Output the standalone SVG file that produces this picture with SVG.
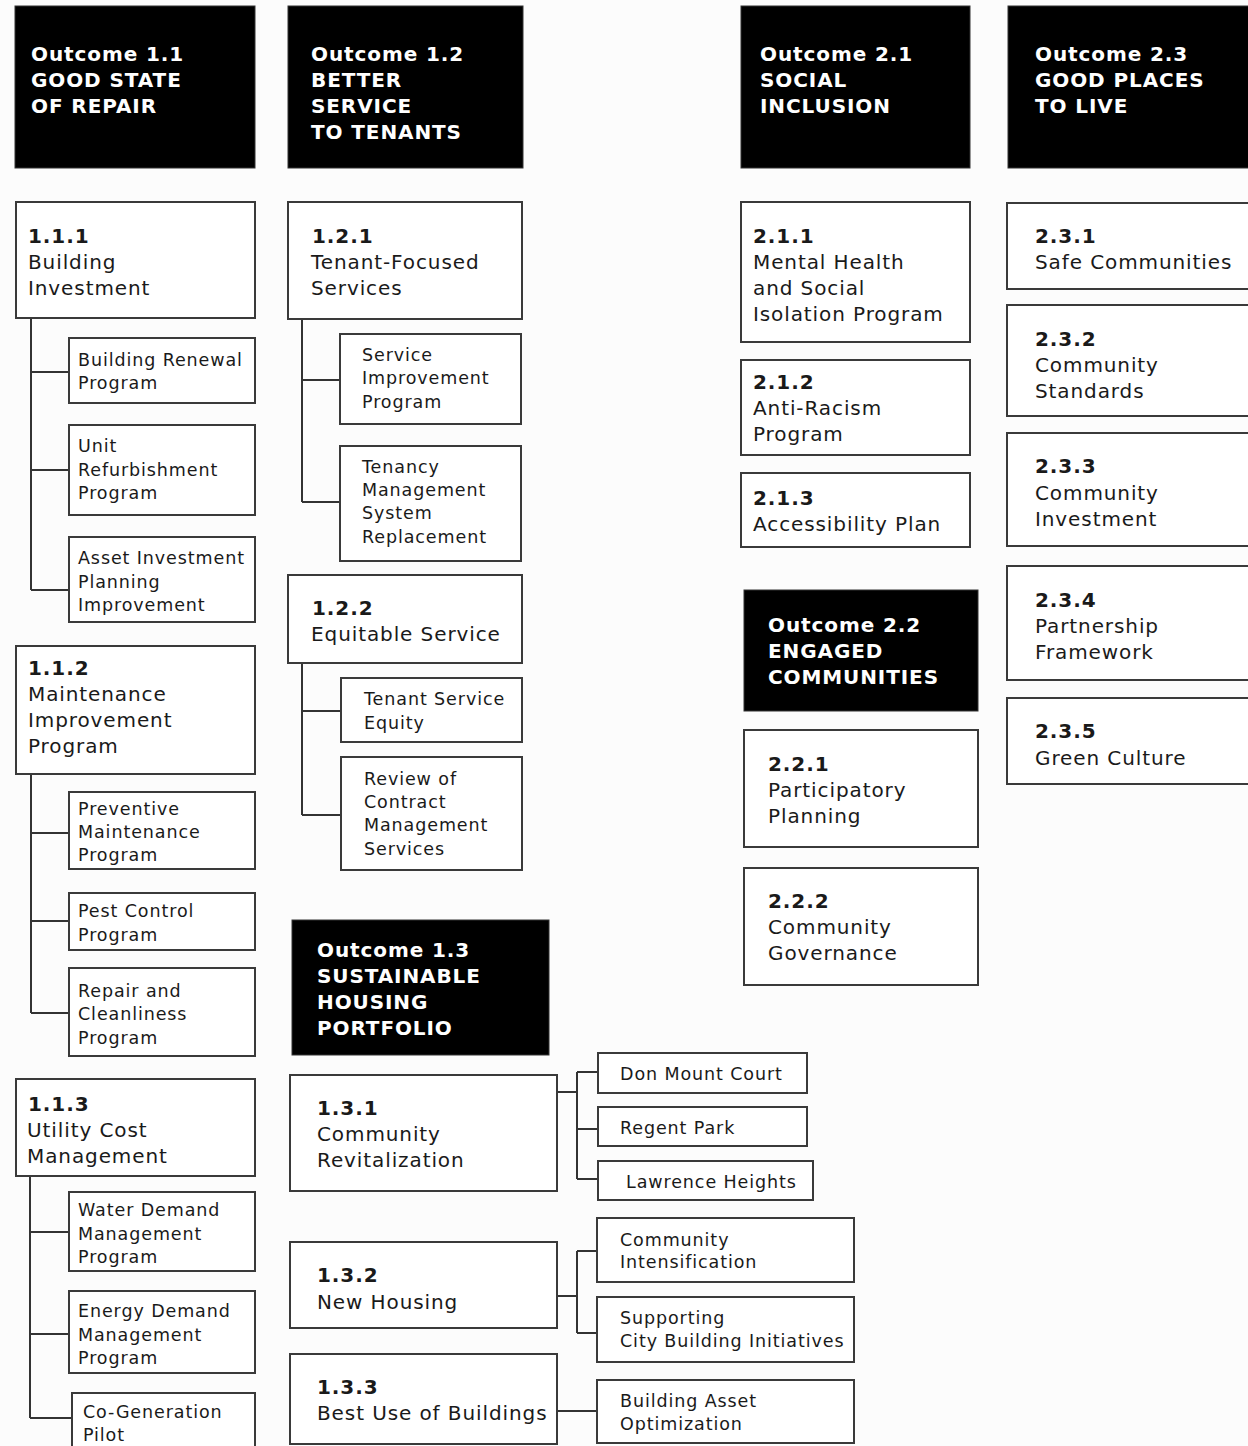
<svg xmlns="http://www.w3.org/2000/svg" width="1248" height="1446" viewBox="0 0 1248 1446">
<style>
text{font-family:"DejaVu Sans","Verdana",sans-serif;fill:#1a1a1a;letter-spacing:0.9px}
.hd rect{fill:#000;stroke:#333;stroke-width:1}
.hd text{fill:#fff;font-weight:bold;font-size:20px}
.bx rect{fill:#fff;stroke:#3a3a3a;stroke-width:2}
.t2{font-size:20px}
.t3{font-size:17.5px}
.b{font-weight:bold}
#conn path{fill:none;stroke:#333;stroke-width:2}
</style>
<rect x="0" y="0" width="1248" height="1446" fill="#fcfcfc"/>

<g id="conn">
<path d="M31 318V590M31 372H69M31 470H69M31 590H69"/>
<path d="M31 774V1013M31 833H69M31 921H69M31 1013H69"/>
<path d="M30 1176V1418M30 1232H69M30 1334H69M30 1418H72"/>
<path d="M302 319V502M302 380H340M302 502H340"/>
<path d="M302 663V815M302 711H341M302 815H341"/>
<path d="M557 1092H577M577 1072V1179M577 1072H598M577 1129H598M577 1179H598"/>
<path d="M557 1296H577M577 1251V1333M577 1251H597M577 1333H597"/>
<path d="M557 1411H597"/>
</g>

<!-- Outcome headers -->
<g id="o11" class="hd"><rect x="15" y="6" width="240" height="162"/>
<text x="31" y="61">Outcome 1.1</text><text x="31" y="87">GOOD STATE</text><text x="31" y="113">OF REPAIR</text></g>
<g id="o12" class="hd"><rect x="288" y="6" width="235" height="162"/>
<text x="311" y="61">Outcome 1.2</text><text x="311" y="87">BETTER</text><text x="311" y="113">SERVICE</text><text x="311" y="139">TO TENANTS</text></g>
<g id="o21" class="hd"><rect x="741" y="6" width="229" height="162"/>
<text x="760" y="61">Outcome 2.1</text><text x="760" y="87">SOCIAL</text><text x="760" y="113">INCLUSION</text></g>
<g id="o23" class="hd"><rect x="1008" y="6" width="250" height="162"/>
<text x="1035" y="61">Outcome 2.3</text><text x="1035" y="87">GOOD PLACES</text><text x="1035" y="113">TO LIVE</text></g>
<g id="o22" class="hd"><rect x="744" y="590" width="234" height="121"/>
<text x="768" y="632">Outcome 2.2</text><text x="768" y="658">ENGAGED</text><text x="768" y="684">COMMUNITIES</text></g>
<g id="o13" class="hd"><rect x="292" y="920" width="257" height="135"/>
<text x="317" y="957">Outcome 1.3</text><text x="317" y="983">SUSTAINABLE</text><text x="317" y="1009">HOUSING</text><text x="317" y="1035">PORTFOLIO</text></g>

<!-- Column 1.1 -->
<g id="n111" class="bx"><rect x="16" y="202" width="239" height="116"/>
<text class="t2 b" x="28" y="243">1.1.1</text><text class="t2" x="28" y="269">Building</text><text class="t2" x="28" y="295">Investment</text></g>
<g id="n111a" class="bx"><rect x="69" y="338" width="186" height="65"/>
<text class="t3" x="78" y="366">Building Renewal</text><text class="t3" x="78" y="389">Program</text></g>
<g id="n111b" class="bx"><rect x="69" y="425" width="186" height="90"/>
<text class="t3" x="78" y="452">Unit</text><text class="t3" x="78" y="476">Refurbishment</text><text class="t3" x="78" y="499">Program</text></g>
<g id="n111c" class="bx"><rect x="69" y="537" width="186" height="85"/>
<text class="t3" x="78" y="564">Asset Investment</text><text class="t3" x="78" y="588">Planning</text><text class="t3" x="78" y="611">Improvement</text></g>

<g id="n112" class="bx"><rect x="16" y="646" width="239" height="128"/>
<text class="t2 b" x="28" y="675">1.1.2</text><text class="t2" x="28" y="701">Maintenance</text><text class="t2" x="28" y="727">Improvement</text><text class="t2" x="28" y="753">Program</text></g>
<g id="n112a" class="bx"><rect x="69" y="792" width="186" height="77"/>
<text class="t3" x="78" y="815">Preventive</text><text class="t3" x="78" y="838">Maintenance</text><text class="t3" x="78" y="861">Program</text></g>
<g id="n112b" class="bx"><rect x="69" y="893" width="186" height="57"/>
<text class="t3" x="78" y="917">Pest Control</text><text class="t3" x="78" y="941">Program</text></g>
<g id="n112c" class="bx"><rect x="69" y="968" width="186" height="88"/>
<text class="t3" x="78" y="997">Repair and</text><text class="t3" x="78" y="1020">Cleanliness</text><text class="t3" x="78" y="1044">Program</text></g>

<g id="n113" class="bx"><rect x="16" y="1079" width="239" height="97"/>
<text class="t2 b" x="28" y="1111">1.1.3</text><text class="t2" x="27" y="1137">Utility Cost</text><text class="t2" x="27" y="1163">Management</text></g>
<g id="n113a" class="bx"><rect x="69" y="1192" width="186" height="79"/>
<text class="t3" x="78" y="1216">Water Demand</text><text class="t3" x="78" y="1240">Management</text><text class="t3" x="78" y="1263">Program</text></g>
<g id="n113b" class="bx"><rect x="69" y="1291" width="186" height="82"/>
<text class="t3" x="78" y="1317">Energy Demand</text><text class="t3" x="78" y="1341">Management</text><text class="t3" x="78" y="1364">Program</text></g>
<g id="n113c" class="bx"><rect x="72" y="1393" width="183" height="60"/>
<text class="t3" x="83" y="1418">Co-Generation</text><text class="t3" x="83" y="1441">Pilot</text></g>

<!-- Column 1.2 -->
<g id="n121" class="bx"><rect x="288" y="202" width="234" height="117"/>
<text class="t2 b" x="312" y="243">1.2.1</text><text class="t2" x="311" y="269">Tenant-Focused</text><text class="t2" x="311" y="295">Services</text></g>
<g id="n121a" class="bx"><rect x="340" y="334" width="181" height="90"/>
<text class="t3" x="362" y="361">Service</text><text class="t3" x="362" y="384">Improvement</text><text class="t3" x="362" y="408">Program</text></g>
<g id="n121b" class="bx"><rect x="340" y="446" width="181" height="115"/>
<text class="t3" x="362" y="473">Tenancy</text><text class="t3" x="362" y="496">Management</text><text class="t3" x="362" y="519">System</text><text class="t3" x="362" y="543">Replacement</text></g>
<g id="n122" class="bx"><rect x="288" y="575" width="234" height="88"/>
<text class="t2 b" x="312" y="615">1.2.2</text><text class="t2" x="311" y="641">Equitable Service</text></g>
<g id="n122a" class="bx"><rect x="341" y="678" width="181" height="64"/>
<text class="t3" x="364" y="705">Tenant Service</text><text class="t3" x="364" y="729">Equity</text></g>
<g id="n122b" class="bx"><rect x="341" y="757" width="181" height="113"/>
<text class="t3" x="364" y="785">Review of</text><text class="t3" x="364" y="808">Contract</text><text class="t3" x="364" y="831">Management</text><text class="t3" x="364" y="855">Services</text></g>

<!-- Column 1.3 -->
<g id="n131" class="bx"><rect x="290" y="1075" width="267" height="116"/>
<text class="t2 b" x="317" y="1115">1.3.1</text><text class="t2" x="317" y="1141">Community</text><text class="t2" x="317" y="1167">Revitalization</text></g>
<g id="n131a" class="bx"><rect x="598" y="1053" width="209" height="40"/>
<text class="t3" x="620" y="1080">Don Mount Court</text></g>
<g id="n131b" class="bx"><rect x="598" y="1107" width="209" height="39"/>
<text class="t3" x="620" y="1134">Regent Park</text></g>
<g id="n131c" class="bx"><rect x="598" y="1161" width="215" height="39"/>
<text class="t3" x="626" y="1188">Lawrence Heights</text></g>
<g id="n132" class="bx"><rect x="290" y="1242" width="267" height="86"/>
<text class="t2 b" x="317" y="1282">1.3.2</text><text class="t2" x="317" y="1309">New Housing</text></g>
<g id="n132a" class="bx"><rect x="597" y="1218" width="257" height="64"/>
<text class="t3" x="620" y="1246">Community</text><text class="t3" x="620" y="1268">Intensification</text></g>
<g id="n132b" class="bx"><rect x="597" y="1297" width="257" height="65"/>
<text class="t3" x="620" y="1324">Supporting</text><text class="t3" x="620" y="1347">City Building Initiatives</text></g>
<g id="n133" class="bx"><rect x="290" y="1354" width="267" height="90"/>
<text class="t2 b" x="317" y="1394">1.3.3</text><text class="t2" x="317" y="1420">Best Use of Buildings</text></g>
<g id="n133a" class="bx"><rect x="597" y="1380" width="257" height="63"/>
<text class="t3" x="620" y="1407">Building Asset</text><text class="t3" x="620" y="1430">Optimization</text></g>

<!-- Column 2.1 / 2.2 -->
<g id="n211" class="bx"><rect x="741" y="202" width="229" height="140"/>
<text class="t2 b" x="753" y="243">2.1.1</text><text class="t2" x="753" y="269">Mental Health</text><text class="t2" x="753" y="295">and Social</text><text class="t2" x="753" y="321">Isolation Program</text></g>
<g id="n212" class="bx"><rect x="741" y="360" width="229" height="95"/>
<text class="t2 b" x="753" y="389">2.1.2</text><text class="t2" x="753" y="415">Anti-Racism</text><text class="t2" x="753" y="441">Program</text></g>
<g id="n213" class="bx"><rect x="741" y="473" width="229" height="74"/>
<text class="t2 b" x="753" y="505">2.1.3</text><text class="t2" x="753" y="531">Accessibility Plan</text></g>
<g id="n221" class="bx"><rect x="744" y="730" width="234" height="117"/>
<text class="t2 b" x="768" y="771">2.2.1</text><text class="t2" x="768" y="797">Participatory</text><text class="t2" x="768" y="823">Planning</text></g>
<g id="n222" class="bx"><rect x="744" y="868" width="234" height="117"/>
<text class="t2 b" x="768" y="908">2.2.2</text><text class="t2" x="768" y="934">Community</text><text class="t2" x="768" y="960">Governance</text></g>

<!-- Column 2.3 -->
<g id="n231" class="bx"><rect x="1007" y="203" width="250" height="86"/>
<text class="t2 b" x="1035" y="243">2.3.1</text><text class="t2" x="1035" y="269">Safe Communities</text></g>
<g id="n232" class="bx"><rect x="1007" y="305" width="250" height="111"/>
<text class="t2 b" x="1035" y="346">2.3.2</text><text class="t2" x="1035" y="372">Community</text><text class="t2" x="1035" y="398">Standards</text></g>
<g id="n233" class="bx"><rect x="1007" y="433" width="250" height="113"/>
<text class="t2 b" x="1035" y="473">2.3.3</text><text class="t2" x="1035" y="500">Community</text><text class="t2" x="1035" y="526">Investment</text></g>
<g id="n234" class="bx"><rect x="1007" y="566" width="250" height="114"/>
<text class="t2 b" x="1035" y="607">2.3.4</text><text class="t2" x="1035" y="633">Partnership</text><text class="t2" x="1035" y="659">Framework</text></g>
<g id="n235" class="bx"><rect x="1007" y="698" width="250" height="86"/>
<text class="t2 b" x="1035" y="738">2.3.5</text><text class="t2" x="1035" y="765">Green Culture</text></g>
</svg>
